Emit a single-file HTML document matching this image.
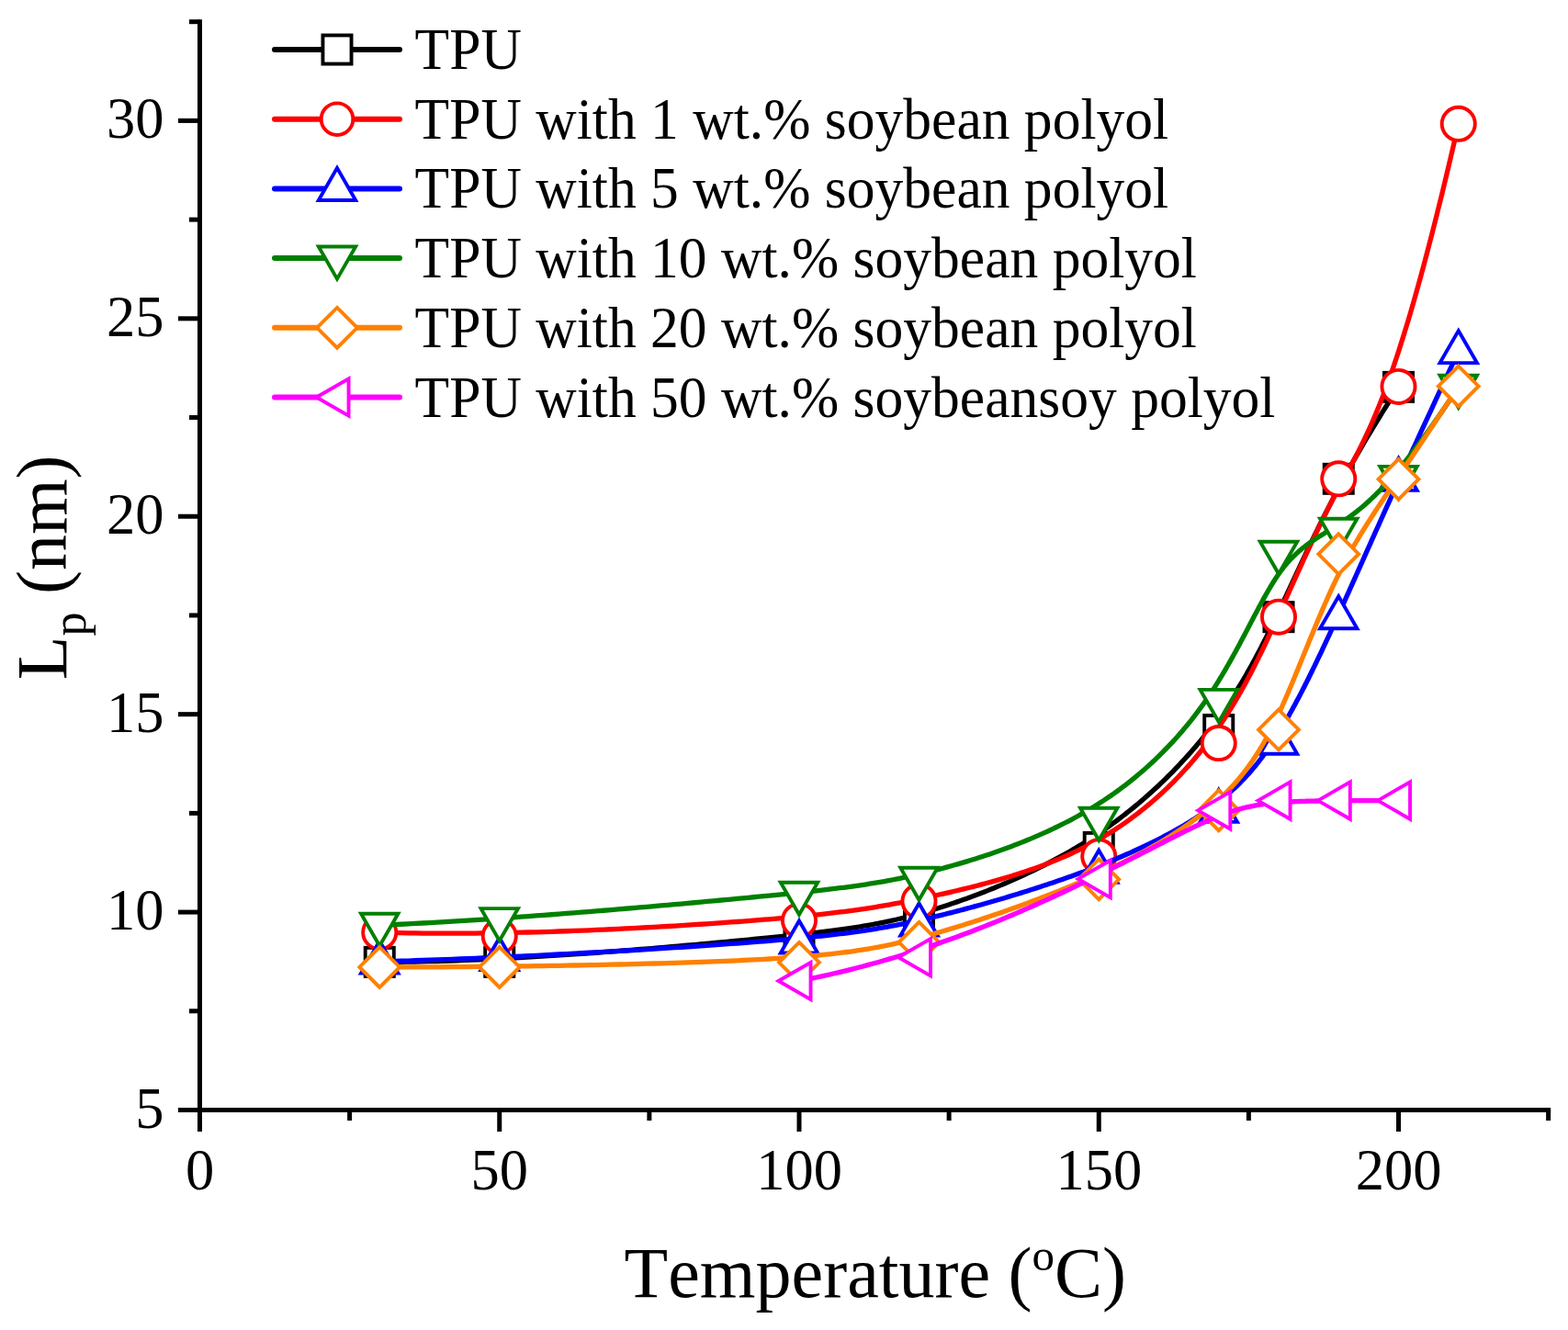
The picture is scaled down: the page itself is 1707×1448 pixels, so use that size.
<!DOCTYPE html>
<html><head><meta charset="utf-8"><title>Lp vs Temperature</title>
<style>
html,body{margin:0;padding:0;background:#fff;overflow:hidden;}
svg{display:block;}
text{font-family:"Liberation Serif","Times New Roman",serif;fill:#000;font-kerning:none;font-variant-ligatures:none;}
</style></head><body>
<svg width="1707" height="1448" viewBox="0 0 1707 1448">
<rect width="1707" height="1448" fill="#fff"/>
<line x1="217.5" y1="23.69" x2="217.5" y2="1208.5" stroke="#000" stroke-width="5" stroke-linecap="square"/>
<line x1="217.5" y1="1208.5" x2="1685.62" y2="1208.5" stroke="#000" stroke-width="5" stroke-linecap="square"/>
<line x1="194" y1="1208.50" x2="217.5" y2="1208.50" stroke="#000" stroke-width="5"/>
<line x1="194" y1="993.08" x2="217.5" y2="993.08" stroke="#000" stroke-width="5"/>
<line x1="194" y1="777.66" x2="217.5" y2="777.66" stroke="#000" stroke-width="5"/>
<line x1="194" y1="562.24" x2="217.5" y2="562.24" stroke="#000" stroke-width="5"/>
<line x1="194" y1="346.82" x2="217.5" y2="346.82" stroke="#000" stroke-width="5"/>
<line x1="194" y1="131.40" x2="217.5" y2="131.40" stroke="#000" stroke-width="5"/>
<line x1="206" y1="1100.79" x2="217.5" y2="1100.79" stroke="#000" stroke-width="5"/>
<line x1="206" y1="885.37" x2="217.5" y2="885.37" stroke="#000" stroke-width="5"/>
<line x1="206" y1="669.95" x2="217.5" y2="669.95" stroke="#000" stroke-width="5"/>
<line x1="206" y1="454.53" x2="217.5" y2="454.53" stroke="#000" stroke-width="5"/>
<line x1="206" y1="239.11" x2="217.5" y2="239.11" stroke="#000" stroke-width="5"/>
<line x1="206" y1="23.69" x2="217.5" y2="23.69" stroke="#000" stroke-width="5"/>
<line x1="217.50" y1="1208.5" x2="217.50" y2="1232" stroke="#000" stroke-width="5"/>
<line x1="543.75" y1="1208.5" x2="543.75" y2="1232" stroke="#000" stroke-width="5"/>
<line x1="870.00" y1="1208.5" x2="870.00" y2="1232" stroke="#000" stroke-width="5"/>
<line x1="1196.25" y1="1208.5" x2="1196.25" y2="1232" stroke="#000" stroke-width="5"/>
<line x1="1522.50" y1="1208.5" x2="1522.50" y2="1232" stroke="#000" stroke-width="5"/>
<line x1="380.62" y1="1208.5" x2="380.62" y2="1220" stroke="#000" stroke-width="5"/>
<line x1="706.88" y1="1208.5" x2="706.88" y2="1220" stroke="#000" stroke-width="5"/>
<line x1="1033.12" y1="1208.5" x2="1033.12" y2="1220" stroke="#000" stroke-width="5"/>
<line x1="1359.38" y1="1208.5" x2="1359.38" y2="1220" stroke="#000" stroke-width="5"/>
<line x1="1685.62" y1="1208.5" x2="1685.62" y2="1220" stroke="#000" stroke-width="5"/>
<text x="178.5" y="1227.50" text-anchor="end" font-size="62.5">5</text>
<text x="178.5" y="1012.08" text-anchor="end" font-size="62.5">10</text>
<text x="178.5" y="796.66" text-anchor="end" font-size="62.5">15</text>
<text x="178.5" y="581.24" text-anchor="end" font-size="62.5">20</text>
<text x="178.5" y="365.82" text-anchor="end" font-size="62.5">25</text>
<text x="178.5" y="150.40" text-anchor="end" font-size="62.5">30</text>
<text x="217.50" y="1295.4" text-anchor="middle" font-size="62.5">0</text>
<text x="543.75" y="1295.4" text-anchor="middle" font-size="62.5">50</text>
<text x="870.00" y="1295.4" text-anchor="middle" font-size="62.5">100</text>
<text x="1196.25" y="1295.4" text-anchor="middle" font-size="62.5">150</text>
<text x="1522.50" y="1295.4" text-anchor="middle" font-size="62.5">200</text>
<text x="679.6" y="1412" font-size="78">Temperature (<tspan font-size="49" dy="-29.5">o</tspan><tspan dy="29.5">C)</tspan></text>
<text transform="translate(71.9,740.25) rotate(-90)" font-size="78">L<tspan font-size="52" dy="21.5">p</tspan><tspan dy="-21.5"> (nm)</tspan></text>
<path d="M413.25 1047.37L420.65 1047.35L428.11 1047.31L435.64 1047.24L443.22 1047.14L450.86 1047.01L458.55 1046.86L466.28 1046.68L474.06 1046.48L481.88 1046.25L489.73 1046.00L497.62 1045.73L505.54 1045.43L513.48 1045.12L521.44 1044.78L529.42 1044.43L537.41 1044.06L545.42 1043.66L553.43 1043.25L561.44 1042.83L569.45 1042.39L577.46 1041.93L585.46 1041.46L593.45 1040.97L601.42 1040.47L609.37 1039.96L617.30 1039.44L625.20 1038.91L633.08 1038.36L640.91 1037.81L648.71 1037.25L656.47 1036.68L664.19 1036.10L671.85 1035.52L679.47 1034.93L687.02 1034.33L694.52 1033.74L701.95 1033.13L709.32 1032.53L716.61 1031.92L723.83 1031.31L730.97 1030.70L738.03 1030.09L745.01 1029.48L751.89 1028.87L758.68 1028.27L765.38 1027.66L771.97 1027.06L778.46 1026.47L784.84 1025.88L791.11 1025.29L797.27 1024.72L803.30 1024.15L809.21 1023.58L815.00 1023.03L820.66 1022.48L826.21 1021.94L831.63 1021.41L836.93 1020.89L842.13 1020.37L847.21 1019.86L852.18 1019.35L857.05 1018.84L861.82 1018.34L866.49 1017.85L871.06 1017.35L875.54 1016.86L879.93 1016.37L884.23 1015.87L888.44 1015.38L892.57 1014.89L896.63 1014.40L900.60 1013.91L904.51 1013.41L908.34 1012.91L912.10 1012.41L915.80 1011.90L919.43 1011.39L923.01 1010.88L926.53 1010.35L929.99 1009.83L933.41 1009.29L936.77 1008.75L940.09 1008.20L943.37 1007.64L946.61 1007.07L949.81 1006.50L952.97 1005.91L956.11 1005.31L959.21 1004.70L962.29 1004.08L965.35 1003.45L968.38 1002.80L971.40 1002.14L974.41 1001.46L977.40 1000.77L980.38 1000.06L983.36 999.34L986.34 998.60L989.31 997.85L992.29 997.07L995.27 996.28L998.26 995.47L1001.26 994.64L1004.27 993.78L1007.30 992.91L1010.35 992.02L1013.43 991.10L1016.52 990.17L1019.64 989.21L1022.77 988.23L1025.93 987.22L1029.11 986.20L1032.30 985.15L1035.51 984.08L1038.74 982.99L1041.98 981.88L1045.24 980.75L1048.51 979.60L1051.80 978.43L1055.09 977.23L1058.40 976.02L1061.72 974.78L1065.05 973.52L1068.38 972.25L1071.73 970.95L1075.08 969.63L1078.44 968.29L1081.80 966.94L1085.16 965.56L1088.53 964.16L1091.91 962.74L1095.28 961.30L1098.66 959.85L1102.03 958.37L1105.40 956.87L1108.78 955.36L1112.15 953.82L1115.51 952.27L1118.87 950.69L1122.23 949.10L1125.58 947.49L1128.92 945.86L1132.26 944.21L1135.58 942.54L1138.90 940.86L1142.21 939.15L1145.50 937.43L1148.78 935.69L1152.05 933.93L1155.31 932.15L1158.55 930.35L1161.78 928.54L1164.98 926.71L1168.17 924.86L1171.35 922.99L1174.50 921.11L1177.63 919.21L1180.75 917.29L1183.84 915.35L1186.91 913.40L1189.95 911.43L1192.97 909.45L1195.97 907.44L1198.95 905.42L1201.90 903.39L1204.83 901.34L1207.74 899.28L1210.62 897.20L1213.48 895.11L1216.32 893.00L1219.13 890.88L1221.92 888.75L1224.69 886.61L1227.44 884.45L1230.16 882.28L1232.86 880.10L1235.53 877.91L1238.19 875.70L1240.82 873.49L1243.42 871.27L1246.01 869.03L1248.57 866.79L1251.10 864.54L1253.62 862.28L1256.11 860.01L1258.58 857.73L1261.02 855.45L1263.44 853.16L1265.84 850.86L1268.22 848.56L1270.57 846.24L1272.90 843.93L1275.21 841.60L1277.49 839.28L1279.75 836.94L1281.99 834.61L1284.20 832.27L1286.39 829.92L1288.56 827.57L1290.71 825.22L1292.83 822.87L1294.93 820.51L1297.00 818.15L1299.05 815.79L1301.08 813.43L1303.09 811.07L1305.07 808.71L1307.03 806.34L1308.97 803.98L1310.88 801.62L1312.77 799.26L1314.64 796.90L1316.49 794.54L1318.31 792.18L1320.11 789.83L1321.89 787.47L1323.64 785.11L1325.38 782.76L1327.10 780.40L1328.80 778.03L1330.48 775.67L1332.14 773.30L1333.79 770.92L1335.41 768.54L1337.03 766.16L1338.63 763.76L1340.21 761.36L1341.78 758.95L1343.34 756.53L1344.88 754.10L1346.41 751.66L1347.94 749.21L1349.45 746.75L1350.95 744.27L1352.44 741.78L1353.92 739.28L1355.40 736.76L1356.87 734.23L1358.33 731.68L1359.79 729.11L1361.24 726.52L1362.68 723.92L1364.13 721.30L1365.56 718.65L1367.00 715.99L1368.43 713.30L1369.87 710.60L1371.30 707.87L1372.73 705.11L1374.16 702.33L1375.60 699.53L1377.03 696.70L1378.47 693.85L1379.91 690.97L1381.36 688.06L1382.81 685.12L1384.26 682.15L1385.72 679.15L1387.19 676.12L1388.66 673.06L1390.15 669.97L1391.64 666.84L1393.13 663.69L1394.64 660.49L1396.16 657.26L1397.69 654.00L1399.24 650.70L1400.79 647.36L1402.36 643.99L1403.94 640.58L1405.54 637.13L1407.16 633.64L1408.79 630.12L1410.45 626.55L1412.12 622.95L1413.82 619.31L1415.54 615.63L1417.28 611.91L1419.05 608.15L1420.84 604.35L1422.66 600.50L1424.51 596.62L1426.39 592.70L1428.30 588.73L1430.23 584.72L1432.21 580.67L1434.21 576.58L1436.25 572.45L1438.32 568.27L1440.44 564.05L1442.58 559.78L1444.77 555.47L1447.00 551.12L1449.27 546.72L1451.58 542.28L1453.93 537.79L1456.33 533.25L1458.78 528.67L1461.27 524.05L1463.80 519.37L1466.39 514.65L1469.03 509.89L1471.71 505.07L1474.45 500.21L1477.24 495.30L1480.09 490.34L1482.99 485.34L1485.95 480.28L1488.96 475.18L1492.04 470.02L1495.17 464.82L1498.36 459.57L1501.62 454.26L1504.93 448.90L1508.32 443.50L1511.76 438.04L1515.27 432.53L1518.85 426.97L1522.50 421.36" fill="none" stroke="#000000" stroke-width="5.3" stroke-linejoin="round"/>
<rect x="397.70" y="1031.82" width="31.10" height="31.10" fill="#fff" stroke="#000000" stroke-width="3.9"/><rect x="528.20" y="1031.82" width="31.10" height="31.10" fill="#fff" stroke="#000000" stroke-width="3.9"/><rect x="854.45" y="1003.81" width="31.10" height="31.10" fill="#fff" stroke="#000000" stroke-width="3.9"/><rect x="984.95" y="986.58" width="31.10" height="31.10" fill="#fff" stroke="#000000" stroke-width="3.9"/><rect x="1180.70" y="906.87" width="31.10" height="31.10" fill="#fff" stroke="#000000" stroke-width="3.9"/><rect x="1311.20" y="778.91" width="31.10" height="31.10" fill="#fff" stroke="#000000" stroke-width="3.9"/><rect x="1376.45" y="656.12" width="31.10" height="31.10" fill="#fff" stroke="#000000" stroke-width="3.9"/><rect x="1441.70" y="505.76" width="31.10" height="31.10" fill="#fff" stroke="#000000" stroke-width="3.9"/><rect x="1506.95" y="405.81" width="31.10" height="31.10" fill="#fff" stroke="#000000" stroke-width="3.9"/>
<path d="M413.25 1015.05L420.92 1015.29L428.66 1015.50L436.47 1015.68L444.34 1015.83L452.26 1015.96L460.24 1016.06L468.27 1016.13L476.35 1016.18L484.47 1016.20L492.62 1016.20L500.81 1016.18L509.03 1016.13L517.27 1016.06L525.53 1015.97L533.82 1015.86L542.11 1015.73L550.41 1015.58L558.72 1015.41L567.02 1015.22L575.33 1015.01L583.62 1014.79L591.91 1014.54L600.17 1014.29L608.42 1014.02L616.64 1013.73L624.84 1013.43L633.00 1013.11L641.12 1012.78L649.21 1012.44L657.25 1012.09L665.24 1011.73L673.18 1011.35L681.06 1010.97L688.88 1010.58L696.63 1010.17L704.32 1009.76L711.93 1009.35L719.46 1008.92L726.91 1008.49L734.28 1008.05L741.56 1007.61L748.74 1007.17L755.82 1006.72L762.80 1006.26L769.68 1005.81L776.44 1005.35L783.09 1004.89L789.62 1004.43L796.03 1003.97L802.31 1003.51L808.46 1003.05L814.47 1002.59L820.35 1002.14L826.10 1001.68L831.72 1001.23L837.22 1000.77L842.59 1000.32L847.85 999.87L852.99 999.42L858.02 998.97L862.94 998.52L867.75 998.07L872.46 997.61L877.07 997.16L881.59 996.70L886.01 996.25L890.34 995.79L894.59 995.33L898.75 994.87L902.83 994.40L906.83 993.94L910.76 993.47L914.61 992.99L918.40 992.51L922.12 992.03L925.79 991.55L929.39 991.06L932.94 990.57L936.43 990.07L939.88 989.57L943.27 989.06L946.63 988.55L949.95 988.03L953.23 987.51L956.47 986.98L959.69 986.44L962.88 985.90L966.04 985.35L969.18 984.79L972.31 984.23L975.42 983.65L978.52 983.08L981.61 982.49L984.69 981.89L987.78 981.29L990.86 980.68L993.95 980.06L997.04 979.43L1000.15 978.79L1003.27 978.14L1006.41 977.48L1009.56 976.81L1012.74 976.13L1015.94 975.44L1019.17 974.74L1022.42 974.02L1025.69 973.30L1028.98 972.56L1032.29 971.81L1035.62 971.05L1038.97 970.28L1042.33 969.49L1045.71 968.69L1049.11 967.87L1052.51 967.04L1055.93 966.20L1059.37 965.34L1062.81 964.46L1066.26 963.57L1069.72 962.66L1073.19 961.74L1076.67 960.80L1080.15 959.84L1083.64 958.86L1087.13 957.87L1090.63 956.86L1094.13 955.82L1097.63 954.77L1101.12 953.70L1104.62 952.62L1108.12 951.51L1111.61 950.38L1115.10 949.23L1118.59 948.06L1122.07 946.86L1125.54 945.65L1129.00 944.41L1132.46 943.15L1135.91 941.87L1139.35 940.57L1142.77 939.24L1146.19 937.89L1149.59 936.51L1152.97 935.11L1156.34 933.68L1159.70 932.23L1163.03 930.75L1166.35 929.25L1169.65 927.72L1172.93 926.17L1176.19 924.58L1179.43 922.97L1182.64 921.34L1185.83 919.67L1188.99 917.98L1192.13 916.25L1195.25 914.50L1198.34 912.73L1201.40 910.93L1204.45 909.10L1207.46 907.24L1210.45 905.36L1213.42 903.46L1216.36 901.53L1219.28 899.58L1222.17 897.60L1225.04 895.60L1227.88 893.58L1230.70 891.54L1233.49 889.48L1236.26 887.39L1239.00 885.28L1241.72 883.16L1244.41 881.01L1247.08 878.85L1249.72 876.66L1252.34 874.46L1254.94 872.24L1257.51 870.00L1260.05 867.74L1262.57 865.47L1265.07 863.18L1267.54 860.88L1269.98 858.56L1272.40 856.22L1274.80 853.88L1277.17 851.51L1279.51 849.14L1281.84 846.75L1284.13 844.34L1286.40 841.93L1288.65 839.50L1290.87 837.07L1293.07 834.62L1295.24 832.16L1297.39 829.69L1299.51 827.22L1301.61 824.73L1303.68 822.23L1305.73 819.73L1307.76 817.22L1309.75 814.70L1311.73 812.17L1313.68 809.64L1315.60 807.10L1317.50 804.56L1319.38 802.01L1321.23 799.46L1323.06 796.90L1324.86 794.33L1326.64 791.76L1328.40 789.19L1330.14 786.61L1331.86 784.02L1333.56 781.43L1335.24 778.83L1336.89 776.23L1338.53 773.63L1340.15 771.01L1341.76 768.39L1343.34 765.77L1344.91 763.14L1346.46 760.51L1347.99 757.87L1349.51 755.23L1351.01 752.58L1352.50 749.92L1353.98 747.26L1355.44 744.60L1356.89 741.93L1358.32 739.25L1359.74 736.57L1361.16 733.89L1362.55 731.20L1363.94 728.50L1365.32 725.80L1366.69 723.09L1368.05 720.38L1369.40 717.67L1370.74 714.95L1372.07 712.22L1373.40 709.49L1374.72 706.75L1376.03 704.01L1377.34 701.26L1378.64 698.51L1379.94 695.75L1381.23 692.99L1382.52 690.23L1383.80 687.45L1385.08 684.68L1386.36 681.90L1387.63 679.11L1388.91 676.32L1390.18 673.52L1391.45 670.72L1392.73 667.92L1394.00 665.10L1395.27 662.29L1396.55 659.47L1397.82 656.64L1399.10 653.81L1400.37 650.98L1401.65 648.14L1402.93 645.30L1404.21 642.45L1405.50 639.60L1406.78 636.75L1408.07 633.89L1409.37 631.03L1410.66 628.16L1411.96 625.29L1413.27 622.42L1414.57 619.54L1415.89 616.66L1417.20 613.78L1418.52 610.90L1419.85 608.01L1421.18 605.12L1422.52 602.22L1423.86 599.32L1425.21 596.43L1426.56 593.52L1427.92 590.62L1429.29 587.71L1430.67 584.80L1432.05 581.89L1433.44 578.98L1434.83 576.06L1436.24 573.15L1437.65 570.23L1439.07 567.31L1440.50 564.39L1441.94 561.46L1443.39 558.54L1444.84 555.61L1446.31 552.69L1447.79 549.76L1449.27 546.83L1450.77 543.90L1452.28 540.97L1453.79 538.04L1455.32 535.10L1456.86 532.17L1458.42 529.24L1459.98 526.30L1461.55 523.37L1463.14 520.44L1464.74 517.50L1466.36 514.55L1467.99 511.57L1469.63 508.56L1471.30 505.51L1472.98 502.40L1474.68 499.22L1476.41 495.97L1478.15 492.63L1479.92 489.19L1481.72 485.64L1483.54 481.98L1485.38 478.19L1487.26 474.25L1489.17 470.17L1491.10 465.93L1493.07 461.52L1495.07 456.92L1497.11 452.13L1499.18 447.14L1501.29 441.94L1503.44 436.52L1505.63 430.86L1507.86 424.95L1510.12 418.79L1512.44 412.37L1514.79 405.67L1517.20 398.68L1519.64 391.40L1522.14 383.81L1524.69 375.90L1527.28 367.67L1529.93 359.09L1532.63 350.17L1535.38 340.88L1538.19 331.23L1541.05 321.19L1543.98 310.77L1546.96 299.94L1550.00 288.70L1553.10 277.03L1556.27 264.94L1559.49 252.40L1562.79 239.40L1566.14 225.94L1569.57 212.01L1573.07 197.59L1576.63 182.68L1580.26 167.25L1583.97 151.31L1587.75 134.85" fill="none" stroke="#FF0000" stroke-width="5.3" stroke-linejoin="round"/>
<circle cx="413.25" cy="1015.05" r="18.05" fill="#fff" stroke="#FF0000" stroke-width="3.9"/><circle cx="543.75" cy="1019.36" r="18.05" fill="#fff" stroke="#FF0000" stroke-width="3.9"/><circle cx="870.00" cy="1002.13" r="18.05" fill="#fff" stroke="#FF0000" stroke-width="3.9"/><circle cx="1000.50" cy="981.02" r="18.05" fill="#fff" stroke="#FF0000" stroke-width="3.9"/><circle cx="1196.25" cy="932.33" r="18.05" fill="#fff" stroke="#FF0000" stroke-width="3.9"/><circle cx="1326.75" cy="809.11" r="18.05" fill="#fff" stroke="#FF0000" stroke-width="3.9"/><circle cx="1392.00" cy="671.67" r="18.05" fill="#fff" stroke="#FF0000" stroke-width="3.9"/><circle cx="1457.25" cy="521.31" r="18.05" fill="#fff" stroke="#FF0000" stroke-width="3.9"/><circle cx="1522.50" cy="420.92" r="18.05" fill="#fff" stroke="#FF0000" stroke-width="3.9"/><circle cx="1587.75" cy="134.85" r="18.05" fill="#fff" stroke="#FF0000" stroke-width="3.9"/>
<path d="M413.25 1046.93L420.92 1046.73L428.66 1046.51L436.47 1046.27L444.34 1046.03L452.26 1045.77L460.24 1045.50L468.27 1045.22L476.35 1044.93L484.47 1044.62L492.62 1044.31L500.81 1043.99L509.03 1043.65L517.27 1043.31L525.53 1042.96L533.82 1042.60L542.11 1042.23L550.41 1041.86L558.72 1041.47L567.02 1041.08L575.33 1040.68L583.62 1040.28L591.91 1039.86L600.17 1039.45L608.42 1039.02L616.64 1038.59L624.84 1038.16L633.00 1037.72L641.12 1037.27L649.21 1036.83L657.25 1036.37L665.24 1035.92L673.18 1035.46L681.06 1035.00L688.88 1034.53L696.63 1034.07L704.32 1033.60L711.93 1033.13L719.46 1032.66L726.91 1032.19L734.28 1031.71L741.56 1031.24L748.74 1030.77L755.82 1030.29L762.80 1029.82L769.68 1029.35L776.44 1028.88L783.09 1028.41L789.62 1027.95L796.03 1027.48L802.31 1027.02L808.46 1026.56L814.47 1026.11L820.35 1025.66L826.10 1025.21L831.72 1024.76L837.22 1024.32L842.59 1023.87L847.85 1023.43L852.99 1022.99L858.02 1022.55L862.94 1022.11L867.75 1021.67L872.46 1021.23L877.07 1020.79L881.59 1020.35L886.01 1019.90L890.34 1019.46L894.59 1019.01L898.75 1018.56L902.83 1018.11L906.83 1017.65L910.76 1017.19L914.61 1016.73L918.40 1016.26L922.12 1015.79L925.79 1015.31L929.39 1014.83L932.94 1014.34L936.43 1013.84L939.88 1013.34L943.27 1012.83L946.63 1012.32L949.95 1011.79L953.23 1011.26L956.47 1010.72L959.69 1010.18L962.88 1009.62L966.04 1009.05L969.18 1008.48L972.31 1007.89L975.42 1007.30L978.52 1006.69L981.61 1006.08L984.69 1005.45L987.78 1004.81L990.86 1004.15L993.95 1003.49L997.04 1002.81L1000.15 1002.12L1003.27 1001.42L1006.41 1000.70L1009.56 999.97L1012.74 999.22L1015.94 998.46L1019.17 997.68L1022.42 996.89L1025.69 996.09L1028.98 995.27L1032.29 994.44L1035.62 993.60L1038.97 992.74L1042.33 991.87L1045.71 990.99L1049.11 990.09L1052.51 989.18L1055.93 988.26L1059.37 987.33L1062.81 986.39L1066.26 985.44L1069.72 984.47L1073.19 983.50L1076.67 982.51L1080.15 981.51L1083.64 980.51L1087.13 979.49L1090.63 978.47L1094.13 977.43L1097.63 976.39L1101.12 975.33L1104.62 974.27L1108.12 973.20L1111.61 972.12L1115.10 971.03L1118.59 969.94L1122.07 968.83L1125.54 967.72L1129.00 966.61L1132.46 965.48L1135.91 964.35L1139.35 963.21L1142.77 962.07L1146.19 960.92L1149.59 959.76L1152.97 958.60L1156.34 957.44L1159.70 956.27L1163.03 955.09L1166.35 953.91L1169.65 952.72L1172.93 951.53L1176.19 950.34L1179.43 949.14L1182.64 947.94L1185.83 946.74L1188.99 945.53L1192.13 944.32L1195.25 943.10L1198.34 941.89L1201.40 940.67L1204.45 939.44L1207.46 938.22L1210.45 936.99L1213.42 935.76L1216.36 934.52L1219.28 933.28L1222.17 932.04L1225.04 930.80L1227.88 929.55L1230.70 928.30L1233.49 927.04L1236.26 925.79L1239.00 924.52L1241.72 923.26L1244.41 921.99L1247.08 920.72L1249.72 919.45L1252.34 918.18L1254.94 916.90L1257.51 915.61L1260.05 914.33L1262.57 913.04L1265.07 911.75L1267.54 910.45L1269.98 909.16L1272.40 907.86L1274.80 906.55L1277.17 905.24L1279.51 903.93L1281.84 902.62L1284.13 901.30L1286.40 899.99L1288.65 898.66L1290.87 897.34L1293.07 896.01L1295.24 894.68L1297.39 893.34L1299.51 892.00L1301.61 890.66L1303.68 889.32L1305.73 887.97L1307.76 886.62L1309.75 885.26L1311.73 883.91L1313.68 882.55L1315.60 881.18L1317.50 879.82L1319.38 878.45L1321.23 877.08L1323.06 875.70L1324.86 874.31L1326.64 872.93L1328.40 871.53L1330.14 870.14L1331.86 868.73L1333.56 867.32L1335.24 865.90L1336.89 864.47L1338.53 863.04L1340.15 861.60L1341.76 860.14L1343.34 858.68L1344.91 857.21L1346.46 855.73L1347.99 854.24L1349.51 852.74L1351.01 851.23L1352.50 849.71L1353.98 848.17L1355.44 846.63L1356.89 845.06L1358.32 843.49L1359.74 841.90L1361.16 840.30L1362.55 838.69L1363.94 837.06L1365.32 835.41L1366.69 833.75L1368.05 832.08L1369.40 830.38L1370.74 828.67L1372.07 826.95L1373.40 825.20L1374.72 823.44L1376.03 821.66L1377.34 819.86L1378.64 818.04L1379.94 816.20L1381.23 814.35L1382.52 812.47L1383.80 810.57L1385.08 808.65L1386.36 806.71L1387.63 804.74L1388.91 802.76L1390.18 800.75L1391.45 798.72L1392.73 796.66L1394.00 794.58L1395.27 792.48L1396.55 790.35L1397.82 788.20L1399.10 786.02L1400.37 783.82L1401.65 781.59L1402.93 779.34L1404.21 777.06L1405.50 774.76L1406.78 772.43L1408.07 770.07L1409.37 767.69L1410.66 765.29L1411.96 762.85L1413.27 760.39L1414.57 757.90L1415.89 755.39L1417.20 752.84L1418.52 750.27L1419.85 747.68L1421.18 745.05L1422.52 742.40L1423.86 739.71L1425.21 737.00L1426.56 734.26L1427.92 731.49L1429.29 728.69L1430.67 725.87L1432.05 723.01L1433.44 720.12L1434.83 717.21L1436.24 714.26L1437.65 711.28L1439.07 708.27L1440.50 705.24L1441.94 702.17L1443.39 699.07L1444.84 695.93L1446.31 692.77L1447.79 689.57L1449.27 686.35L1450.77 683.09L1452.28 679.80L1453.79 676.47L1455.32 673.12L1456.86 669.73L1458.42 666.30L1459.98 662.85L1461.55 659.36L1463.14 655.84L1464.74 652.28L1466.36 648.68L1467.99 645.05L1469.63 641.38L1471.30 637.66L1472.98 633.90L1474.68 630.09L1476.41 626.23L1478.15 622.32L1479.92 618.35L1481.72 614.33L1483.54 610.25L1485.38 606.11L1487.26 601.91L1489.17 597.64L1491.10 593.30L1493.07 588.90L1495.07 584.43L1497.11 579.88L1499.18 575.25L1501.29 570.55L1503.44 565.77L1505.63 560.91L1507.86 555.96L1510.12 550.92L1512.44 545.80L1514.79 540.59L1517.20 535.28L1519.64 529.88L1522.14 524.38L1524.69 518.78L1527.28 513.08L1529.93 507.27L1532.63 501.36L1535.38 495.35L1538.19 489.22L1541.05 482.98L1543.98 476.62L1546.96 470.15L1550.00 463.56L1553.10 456.84L1556.27 450.01L1559.49 443.05L1562.79 435.96L1566.14 428.74L1569.57 421.39L1573.07 413.90L1576.63 406.28L1580.26 398.52L1583.97 390.62L1587.75 382.58" fill="none" stroke="#0000FF" stroke-width="5.3" stroke-linejoin="round"/>
<path d="M413.25 1024.43L433.45 1059.48L393.05 1059.48Z" fill="#fff" stroke="#0000FF" stroke-width="3.9"/><path d="M543.75 1020.99L563.95 1056.04L523.55 1056.04Z" fill="#fff" stroke="#0000FF" stroke-width="3.9"/><path d="M870.00 1002.46L890.20 1037.51L849.80 1037.51Z" fill="#fff" stroke="#0000FF" stroke-width="3.9"/><path d="M1000.50 983.51L1020.70 1018.56L980.30 1018.56Z" fill="#fff" stroke="#0000FF" stroke-width="3.9"/><path d="M1196.25 925.77L1216.45 960.82L1176.05 960.82Z" fill="#fff" stroke="#0000FF" stroke-width="3.9"/><path d="M1326.75 859.85L1346.95 894.90L1306.55 894.90Z" fill="#fff" stroke="#0000FF" stroke-width="3.9"/><path d="M1392.00 785.75L1412.20 820.80L1371.80 820.80Z" fill="#fff" stroke="#0000FF" stroke-width="3.9"/><path d="M1457.25 649.17L1477.45 684.22L1437.05 684.22Z" fill="#fff" stroke="#0000FF" stroke-width="3.9"/><path d="M1522.50 498.81L1542.70 533.86L1502.30 533.86Z" fill="#fff" stroke="#0000FF" stroke-width="3.9"/><path d="M1587.75 360.08L1607.95 395.13L1567.55 395.13Z" fill="#fff" stroke="#0000FF" stroke-width="3.9"/>
<path d="M413.25 1007.30L420.92 1006.96L428.66 1006.60L436.47 1006.23L444.34 1005.84L452.26 1005.43L460.24 1005.00L468.27 1004.56L476.35 1004.10L484.47 1003.62L492.62 1003.14L500.81 1002.63L509.03 1002.12L517.27 1001.59L525.53 1001.05L533.82 1000.50L542.11 999.94L550.41 999.36L558.72 998.78L567.02 998.19L575.33 997.59L583.62 996.98L591.91 996.36L600.17 995.74L608.42 995.11L616.64 994.48L624.84 993.84L633.00 993.19L641.12 992.55L649.21 991.89L657.25 991.24L665.24 990.58L673.18 989.92L681.06 989.26L688.88 988.60L696.63 987.94L704.32 987.29L711.93 986.63L719.46 985.97L726.91 985.32L734.28 984.67L741.56 984.02L748.74 983.38L755.82 982.74L762.80 982.11L769.68 981.48L776.44 980.86L783.09 980.25L789.62 979.64L796.03 979.04L802.31 978.46L808.46 977.88L814.47 977.31L820.35 976.75L826.10 976.20L831.72 975.66L837.22 975.12L842.59 974.60L847.85 974.08L852.99 973.57L858.02 973.06L862.94 972.56L867.75 972.06L872.46 971.57L877.07 971.08L881.59 970.59L886.01 970.11L890.34 969.63L894.59 969.15L898.75 968.67L902.83 968.19L906.83 967.71L910.76 967.23L914.61 966.74L918.40 966.26L922.12 965.77L925.79 965.28L929.39 964.79L932.94 964.29L936.43 963.79L939.88 963.28L943.27 962.76L946.63 962.24L949.95 961.72L953.23 961.18L956.47 960.64L959.69 960.08L962.88 959.52L966.04 958.95L969.18 958.37L972.31 957.77L975.42 957.17L978.52 956.55L981.61 955.92L984.69 955.28L987.78 954.62L990.86 953.95L993.95 953.26L997.04 952.56L1000.15 951.84L1003.27 951.10L1006.41 950.35L1009.56 949.58L1012.74 948.79L1015.94 947.99L1019.17 947.16L1022.42 946.32L1025.69 945.45L1028.98 944.57L1032.29 943.67L1035.62 942.75L1038.97 941.80L1042.33 940.84L1045.71 939.86L1049.11 938.86L1052.51 937.84L1055.93 936.80L1059.37 935.74L1062.81 934.66L1066.26 933.56L1069.72 932.44L1073.19 931.30L1076.67 930.14L1080.15 928.95L1083.64 927.75L1087.13 926.52L1090.63 925.28L1094.13 924.01L1097.63 922.72L1101.12 921.41L1104.62 920.08L1108.12 918.72L1111.61 917.35L1115.10 915.95L1118.59 914.53L1122.07 913.09L1125.54 911.63L1129.00 910.14L1132.46 908.63L1135.91 907.10L1139.35 905.55L1142.77 903.97L1146.19 902.37L1149.59 900.75L1152.97 899.11L1156.34 897.44L1159.70 895.75L1163.03 894.03L1166.35 892.29L1169.65 890.53L1172.93 888.75L1176.19 886.94L1179.43 885.10L1182.64 883.25L1185.83 881.37L1188.99 879.46L1192.13 877.53L1195.25 875.58L1198.34 873.60L1201.40 871.60L1204.45 869.58L1207.46 867.53L1210.45 865.46L1213.42 863.37L1216.36 861.26L1219.28 859.12L1222.17 856.97L1225.04 854.79L1227.88 852.59L1230.70 850.37L1233.49 848.13L1236.26 845.87L1239.00 843.58L1241.72 841.28L1244.41 838.96L1247.08 836.62L1249.72 834.26L1252.34 831.88L1254.94 829.48L1257.51 827.07L1260.05 824.63L1262.57 822.18L1265.07 819.71L1267.54 817.22L1269.98 814.71L1272.40 812.19L1274.80 809.65L1277.17 807.09L1279.51 804.52L1281.84 801.93L1284.13 799.32L1286.40 796.70L1288.65 794.06L1290.87 791.41L1293.07 788.74L1295.24 786.06L1297.39 783.36L1299.51 780.65L1301.61 777.92L1303.68 775.18L1305.73 772.43L1307.76 769.66L1309.75 766.88L1311.73 764.09L1313.68 761.28L1315.60 758.46L1317.50 755.63L1319.38 752.79L1321.23 749.93L1323.06 747.07L1324.86 744.21L1326.64 741.33L1328.40 738.45L1330.14 735.57L1331.86 732.68L1333.56 729.79L1335.24 726.91L1336.89 724.02L1338.53 721.14L1340.15 718.26L1341.76 715.38L1343.34 712.52L1344.91 709.66L1346.46 706.80L1347.99 703.96L1349.51 701.13L1351.01 698.31L1352.50 695.51L1353.98 692.72L1355.44 689.95L1356.89 687.19L1358.32 684.45L1359.74 681.74L1361.16 679.04L1362.55 676.37L1363.94 673.72L1365.32 671.09L1366.69 668.50L1368.05 665.93L1369.40 663.38L1370.74 660.87L1372.07 658.39L1373.40 655.94L1374.72 653.53L1376.03 651.15L1377.34 648.81L1378.64 646.50L1379.94 644.23L1381.23 642.01L1382.52 639.82L1383.80 637.68L1385.08 635.58L1386.36 633.52L1387.63 631.52L1388.91 629.56L1390.18 627.64L1391.45 625.78L1392.73 623.97L1394.00 622.21L1395.27 620.50L1396.55 618.84L1397.82 617.22L1399.10 615.65L1400.37 614.12L1401.65 612.64L1402.93 611.19L1404.21 609.79L1405.50 608.42L1406.78 607.09L1408.07 605.80L1409.37 604.53L1410.66 603.30L1411.96 602.10L1413.27 600.93L1414.57 599.79L1415.89 598.67L1417.20 597.58L1418.52 596.51L1419.85 595.46L1421.18 594.44L1422.52 593.43L1423.86 592.44L1425.21 591.46L1426.56 590.50L1427.92 589.56L1429.29 588.62L1430.67 587.69L1432.05 586.78L1433.44 585.87L1434.83 584.97L1436.24 584.07L1437.65 583.17L1439.07 582.27L1440.50 581.38L1441.94 580.48L1443.39 579.58L1444.84 578.68L1446.31 577.77L1447.79 576.85L1449.27 575.93L1450.77 574.99L1452.28 574.04L1453.79 573.08L1455.32 572.11L1456.86 571.11L1458.42 570.11L1459.98 569.08L1461.55 568.03L1463.14 566.96L1464.74 565.86L1466.36 564.74L1467.99 563.59L1469.63 562.41L1471.30 561.20L1472.98 559.94L1474.68 558.65L1476.41 557.31L1478.15 555.93L1479.92 554.50L1481.72 553.02L1483.54 551.49L1485.38 549.90L1487.26 548.26L1489.17 546.55L1491.10 544.77L1493.07 542.93L1495.07 541.02L1497.11 539.04L1499.18 536.98L1501.29 534.85L1503.44 532.64L1505.63 530.34L1507.86 527.95L1510.12 525.48L1512.44 522.92L1514.79 520.26L1517.20 517.51L1519.64 514.66L1522.14 511.70L1524.69 508.64L1527.28 505.48L1529.93 502.20L1532.63 498.81L1535.38 495.31L1538.19 491.69L1541.05 487.94L1543.98 484.08L1546.96 480.08L1550.00 475.96L1553.10 471.71L1556.27 467.32L1559.49 462.80L1562.79 458.14L1566.14 453.33L1569.57 448.38L1573.07 443.28L1576.63 438.03L1580.26 432.63L1583.97 427.07L1587.75 421.36" fill="none" stroke="#008000" stroke-width="5.3" stroke-linejoin="round"/>
<path d="M413.25 1029.80L433.45 994.75L393.05 994.75Z" fill="#fff" stroke="#008000" stroke-width="3.9"/><path d="M543.75 1024.20L563.95 989.15L523.55 989.15Z" fill="#fff" stroke="#008000" stroke-width="3.9"/><path d="M870.00 995.76L890.20 960.71L849.80 960.71Z" fill="#fff" stroke="#008000" stroke-width="3.9"/><path d="M1000.50 979.82L1020.70 944.77L980.30 944.77Z" fill="#fff" stroke="#008000" stroke-width="3.9"/><path d="M1196.25 914.76L1216.45 879.71L1176.05 879.71Z" fill="#fff" stroke="#008000" stroke-width="3.9"/><path d="M1326.75 785.94L1346.95 750.89L1306.55 750.89Z" fill="#fff" stroke="#008000" stroke-width="3.9"/><path d="M1392.00 624.81L1412.20 589.76L1371.80 589.76Z" fill="#fff" stroke="#008000" stroke-width="3.9"/><path d="M1457.25 599.82L1477.45 564.77L1437.05 564.77Z" fill="#fff" stroke="#008000" stroke-width="3.9"/><path d="M1522.50 542.95L1542.70 507.90L1502.30 507.90Z" fill="#fff" stroke="#008000" stroke-width="3.9"/><path d="M1587.75 443.86L1607.95 408.81L1567.55 408.81Z" fill="#fff" stroke="#008000" stroke-width="3.9"/>
<path d="M413.25 1052.97L420.92 1052.96L428.66 1052.95L436.47 1052.94L444.34 1052.92L452.26 1052.89L460.24 1052.86L468.27 1052.82L476.35 1052.78L484.47 1052.73L492.62 1052.67L500.81 1052.61L509.03 1052.54L517.27 1052.47L525.53 1052.39L533.82 1052.31L542.11 1052.22L550.41 1052.12L558.72 1052.02L567.02 1051.91L575.33 1051.80L583.62 1051.68L591.91 1051.56L600.17 1051.43L608.42 1051.29L616.64 1051.15L624.84 1051.00L633.00 1050.85L641.12 1050.69L649.21 1050.53L657.25 1050.36L665.24 1050.18L673.18 1050.00L681.06 1049.81L688.88 1049.62L696.63 1049.42L704.32 1049.22L711.93 1049.01L719.46 1048.80L726.91 1048.58L734.28 1048.35L741.56 1048.12L748.74 1047.88L755.82 1047.64L762.80 1047.39L769.68 1047.14L776.44 1046.88L783.09 1046.62L789.62 1046.35L796.03 1046.08L802.31 1045.80L808.46 1045.51L814.47 1045.22L820.35 1044.92L826.10 1044.62L831.72 1044.31L837.22 1044.00L842.59 1043.68L847.85 1043.35L852.99 1043.01L858.02 1042.67L862.94 1042.32L867.75 1041.96L872.46 1041.60L877.07 1041.22L881.59 1040.84L886.01 1040.45L890.34 1040.05L894.59 1039.64L898.75 1039.22L902.83 1038.79L906.83 1038.36L910.76 1037.91L914.61 1037.45L918.40 1036.98L922.12 1036.50L925.79 1036.01L929.39 1035.51L932.94 1034.99L936.43 1034.47L939.88 1033.93L943.27 1033.38L946.63 1032.82L949.95 1032.24L953.23 1031.66L956.47 1031.05L959.69 1030.44L962.88 1029.81L966.04 1029.17L969.18 1028.51L972.31 1027.84L975.42 1027.15L978.52 1026.45L981.61 1025.74L984.69 1025.00L987.78 1024.26L990.86 1023.49L993.95 1022.72L997.04 1021.92L1000.15 1021.11L1003.27 1020.28L1006.41 1019.43L1009.56 1018.57L1012.74 1017.69L1015.94 1016.79L1019.17 1015.88L1022.42 1014.94L1025.69 1013.99L1028.98 1013.03L1032.29 1012.05L1035.62 1011.05L1038.97 1010.04L1042.33 1009.01L1045.71 1007.96L1049.11 1006.91L1052.51 1005.83L1055.93 1004.75L1059.37 1003.65L1062.81 1002.54L1066.26 1001.41L1069.72 1000.27L1073.19 999.12L1076.67 997.96L1080.15 996.78L1083.64 995.59L1087.13 994.39L1090.63 993.18L1094.13 991.96L1097.63 990.73L1101.12 989.49L1104.62 988.24L1108.12 986.98L1111.61 985.71L1115.10 984.43L1118.59 983.15L1122.07 981.85L1125.54 980.55L1129.00 979.24L1132.46 977.92L1135.91 976.59L1139.35 975.26L1142.77 973.92L1146.19 972.57L1149.59 971.22L1152.97 969.86L1156.34 968.50L1159.70 967.13L1163.03 965.76L1166.35 964.38L1169.65 963.00L1172.93 961.62L1176.19 960.23L1179.43 958.84L1182.64 957.44L1185.83 956.04L1188.99 954.64L1192.13 953.24L1195.25 951.83L1198.34 950.43L1201.40 949.02L1204.45 947.60L1207.46 946.19L1210.45 944.77L1213.42 943.35L1216.36 941.92L1219.28 940.49L1222.17 939.06L1225.04 937.63L1227.88 936.19L1230.70 934.75L1233.49 933.31L1236.26 931.86L1239.00 930.41L1241.72 928.96L1244.41 927.51L1247.08 926.05L1249.72 924.58L1252.34 923.12L1254.94 921.65L1257.51 920.17L1260.05 918.69L1262.57 917.21L1265.07 915.73L1267.54 914.24L1269.98 912.75L1272.40 911.25L1274.80 909.75L1277.17 908.25L1279.51 906.74L1281.84 905.22L1284.13 903.71L1286.40 902.19L1288.65 900.66L1290.87 899.13L1293.07 897.60L1295.24 896.06L1297.39 894.52L1299.51 892.97L1301.61 891.42L1303.68 889.86L1305.73 888.30L1307.76 886.74L1309.75 885.17L1311.73 883.59L1313.68 882.01L1315.60 880.43L1317.50 878.84L1319.38 877.24L1321.23 875.64L1323.06 874.03L1324.86 872.42L1326.64 870.79L1328.40 869.16L1330.14 867.52L1331.86 865.87L1333.56 864.20L1335.24 862.53L1336.89 860.84L1338.53 859.14L1340.15 857.43L1341.76 855.70L1343.34 853.96L1344.91 852.20L1346.46 850.43L1347.99 848.64L1349.51 846.83L1351.01 845.00L1352.50 843.16L1353.98 841.29L1355.44 839.40L1356.89 837.50L1358.32 835.57L1359.74 833.62L1361.16 831.65L1362.55 829.65L1363.94 827.63L1365.32 825.58L1366.69 823.51L1368.05 821.41L1369.40 819.29L1370.74 817.14L1372.07 814.95L1373.40 812.75L1374.72 810.51L1376.03 808.24L1377.34 805.94L1378.64 803.60L1379.94 801.24L1381.23 798.84L1382.52 796.41L1383.80 793.94L1385.08 791.44L1386.36 788.91L1387.63 786.33L1388.91 783.73L1390.18 781.08L1391.45 778.39L1392.73 775.67L1394.00 772.90L1395.27 770.10L1396.55 767.27L1397.82 764.40L1399.10 761.49L1400.37 758.55L1401.65 755.59L1402.93 752.59L1404.21 749.56L1405.50 746.51L1406.78 743.43L1408.07 740.33L1409.37 737.20L1410.66 734.05L1411.96 730.88L1413.27 727.70L1414.57 724.49L1415.89 721.27L1417.20 718.03L1418.52 714.77L1419.85 711.51L1421.18 708.23L1422.52 704.94L1423.86 701.64L1425.21 698.34L1426.56 695.03L1427.92 691.71L1429.29 688.39L1430.67 685.06L1432.05 681.74L1433.44 678.41L1434.83 675.09L1436.24 671.77L1437.65 668.45L1439.07 665.13L1440.50 661.83L1441.94 658.53L1443.39 655.23L1444.84 651.95L1446.31 648.68L1447.79 645.42L1449.27 642.18L1450.77 638.95L1452.28 635.74L1453.79 632.55L1455.32 629.37L1456.86 626.22L1458.42 623.08L1459.98 619.97L1461.55 616.88L1463.14 613.82L1464.74 610.79L1466.36 607.77L1467.99 604.78L1469.63 601.80L1471.30 598.83L1472.98 595.87L1474.68 592.92L1476.41 589.97L1478.15 587.03L1479.92 584.07L1481.72 581.11L1483.54 578.15L1485.38 575.16L1487.26 572.17L1489.17 569.15L1491.10 566.11L1493.07 563.04L1495.07 559.95L1497.11 556.82L1499.18 553.66L1501.29 550.45L1503.44 547.21L1505.63 543.92L1507.86 540.58L1510.12 537.20L1512.44 533.75L1514.79 530.25L1517.20 526.69L1519.64 523.06L1522.14 519.37L1524.69 515.60L1527.28 511.76L1529.93 507.84L1532.63 503.85L1535.38 499.77L1538.19 495.60L1541.05 491.34L1543.98 486.99L1546.96 482.55L1550.00 478.00L1553.10 473.35L1556.27 468.59L1559.49 463.73L1562.79 458.75L1566.14 453.66L1569.57 448.45L1573.07 443.11L1576.63 437.65L1580.26 432.07L1583.97 426.35L1587.75 420.49" fill="none" stroke="#FF8000" stroke-width="5.3" stroke-linejoin="round"/>
<path d="M413.25 1031.07L435.15 1052.97L413.25 1074.87L391.35 1052.97Z" fill="#fff" stroke="#FF8000" stroke-width="3.9"/><path d="M543.75 1031.07L565.65 1052.97L543.75 1074.87L521.85 1052.97Z" fill="#fff" stroke="#FF8000" stroke-width="3.9"/><path d="M870.00 1025.90L891.90 1047.80L870.00 1069.70L848.10 1047.80Z" fill="#fff" stroke="#FF8000" stroke-width="3.9"/><path d="M1000.50 1003.92L1022.40 1025.82L1000.50 1047.72L978.60 1025.82Z" fill="#fff" stroke="#FF8000" stroke-width="3.9"/><path d="M1196.25 935.42L1218.15 957.32L1196.25 979.22L1174.35 957.32Z" fill="#fff" stroke="#FF8000" stroke-width="3.9"/><path d="M1326.75 860.45L1348.65 882.35L1326.75 904.25L1304.85 882.35Z" fill="#fff" stroke="#FF8000" stroke-width="3.9"/><path d="M1392.00 772.56L1413.90 794.46L1392.00 816.36L1370.10 794.46Z" fill="#fff" stroke="#FF8000" stroke-width="3.9"/><path d="M1457.25 581.27L1479.15 603.17L1457.25 625.07L1435.35 603.17Z" fill="#fff" stroke="#FF8000" stroke-width="3.9"/><path d="M1522.50 499.84L1544.40 521.74L1522.50 543.64L1500.60 521.74Z" fill="#fff" stroke="#FF8000" stroke-width="3.9"/><path d="M1587.75 398.59L1609.65 420.49L1587.75 442.39L1565.85 420.49Z" fill="#fff" stroke="#FF8000" stroke-width="3.9"/>
<path d="M870.00 1068.05L876.52 1066.73L883.00 1065.39L889.41 1064.03L895.77 1062.64L902.08 1061.22L908.33 1059.78L914.53 1058.31L920.68 1056.82L926.77 1055.31L932.81 1053.78L938.79 1052.22L944.72 1050.65L950.60 1049.05L956.43 1047.44L962.20 1045.81L967.92 1044.16L973.59 1042.49L979.21 1040.81L984.77 1039.11L990.28 1037.40L995.74 1035.68L1001.15 1033.94L1006.51 1032.19L1011.82 1030.43L1017.07 1028.66L1022.27 1026.87L1027.43 1025.08L1032.53 1023.28L1037.58 1021.47L1042.58 1019.65L1047.53 1017.83L1052.44 1016.00L1057.29 1014.17L1062.09 1012.33L1066.84 1010.49L1071.54 1008.64L1076.19 1006.80L1080.80 1004.95L1085.35 1003.10L1089.86 1001.25L1094.32 999.40L1098.72 997.55L1103.08 995.71L1107.40 993.87L1111.66 992.03L1115.88 990.19L1120.04 988.37L1124.16 986.54L1128.24 984.72L1132.26 982.91L1136.24 981.11L1140.17 979.32L1144.06 977.54L1147.89 975.76L1151.69 974.00L1155.43 972.25L1159.13 970.51L1162.78 968.78L1166.39 967.07L1169.95 965.37L1173.46 963.69L1176.93 962.02L1180.36 960.37L1183.74 958.73L1187.08 957.10L1190.37 955.50L1193.62 953.90L1196.83 952.33L1200.00 950.77L1203.12 949.22L1206.21 947.69L1209.25 946.17L1212.26 944.67L1215.22 943.19L1218.15 941.72L1221.03 940.27L1223.88 938.83L1226.69 937.41L1229.46 936.00L1232.20 934.61L1234.90 933.24L1237.56 931.88L1240.19 930.54L1242.79 929.22L1245.34 927.91L1247.87 926.61L1250.36 925.34L1252.82 924.08L1255.24 922.83L1257.64 921.60L1260.00 920.39L1262.33 919.20L1264.63 918.02L1266.89 916.86L1269.13 915.71L1271.34 914.58L1273.52 913.47L1275.67 912.38L1277.80 911.30L1279.89 910.24L1281.96 909.19L1284.00 908.17L1286.02 907.16L1288.00 906.16L1289.97 905.19L1291.91 904.23L1293.82 903.28L1295.71 902.36L1297.58 901.45L1299.42 900.56L1301.24 899.69L1303.04 898.83L1304.82 898.00L1306.58 897.18L1308.31 896.37L1310.03 895.59L1311.72 894.82L1313.40 894.07L1315.05 893.34L1316.69 892.63L1318.31 891.93L1319.91 891.25L1321.50 890.59L1323.07 889.95L1324.62 889.32L1326.16 888.71L1327.68 888.11L1329.19 887.53L1330.68 886.97L1332.16 886.42L1333.62 885.89L1335.07 885.37L1336.51 884.87L1337.94 884.38L1339.35 883.91L1340.76 883.45L1342.15 883.00L1343.54 882.57L1344.91 882.15L1346.27 881.74L1347.63 881.35L1348.98 880.97L1350.32 880.60L1351.65 880.24L1352.97 879.90L1354.29 879.57L1355.60 879.24L1356.91 878.93L1358.21 878.63L1359.50 878.34L1360.80 878.06L1362.09 877.79L1363.37 877.53L1364.65 877.28L1365.93 877.04L1367.21 876.81L1368.48 876.59L1369.76 876.37L1371.03 876.17L1372.31 875.97L1373.58 875.78L1374.86 875.59L1376.13 875.42L1377.41 875.25L1378.69 875.09L1379.97 874.93L1381.26 874.78L1382.55 874.64L1383.84 874.51L1385.14 874.37L1386.44 874.25L1387.75 874.13L1389.07 874.01L1390.39 873.90L1391.71 873.79L1393.05 873.69L1394.39 873.59L1395.74 873.49L1397.10 873.40L1398.46 873.31L1399.84 873.23L1401.23 873.14L1402.63 873.06L1404.04 872.98L1405.46 872.91L1406.90 872.84L1408.35 872.77L1409.82 872.70L1411.30 872.64L1412.80 872.57L1414.31 872.51L1415.85 872.46L1417.40 872.40L1418.98 872.35L1420.57 872.30L1422.18 872.25L1423.82 872.21L1425.48 872.16L1427.16 872.12L1428.87 872.08L1430.60 872.04L1432.36 872.01L1434.14 871.98L1435.95 871.94L1437.79 871.91L1439.66 871.89L1441.56 871.86L1443.49 871.83L1445.45 871.81L1447.44 871.79L1449.46 871.77L1451.52 871.75L1453.61 871.73L1455.74 871.71L1457.90 871.70L1460.10 871.69L1462.34 871.67L1464.61 871.66L1466.92 871.65L1469.28 871.64L1471.67 871.63L1474.10 871.62L1476.58 871.62L1479.10 871.61L1481.66 871.61L1484.26 871.60L1486.91 871.60L1489.61 871.59L1492.35 871.59L1495.14 871.59L1497.98 871.59L1500.87 871.59L1503.80 871.58L1506.79 871.58L1509.83 871.58L1512.91 871.58L1516.06 871.58L1519.25 871.58L1522.50 871.58" fill="none" stroke="#FF00FF" stroke-width="5.3" stroke-linejoin="round"/>
<path d="M847.50 1068.05L882.55 1047.85L882.55 1088.25Z" fill="#fff" stroke="#FF00FF" stroke-width="3.9"/><path d="M978.00 1042.20L1013.05 1022.00L1013.05 1062.40Z" fill="#fff" stroke="#FF00FF" stroke-width="3.9"/><path d="M1173.75 956.89L1208.80 936.69L1208.80 977.09Z" fill="#fff" stroke="#FF00FF" stroke-width="3.9"/><path d="M1304.25 882.35L1339.30 862.15L1339.30 902.55Z" fill="#fff" stroke="#FF00FF" stroke-width="3.9"/><path d="M1369.50 871.58L1404.55 851.38L1404.55 891.78Z" fill="#fff" stroke="#FF00FF" stroke-width="3.9"/><path d="M1434.75 871.58L1469.80 851.38L1469.80 891.78Z" fill="#fff" stroke="#FF00FF" stroke-width="3.9"/><path d="M1500.00 871.58L1535.05 851.38L1535.05 891.78Z" fill="#fff" stroke="#FF00FF" stroke-width="3.9"/>
<line x1="299" y1="54.00" x2="435" y2="54.00" stroke="#000000" stroke-width="6.0" stroke-linecap="round"/>
<rect x="351.45" y="38.45" width="31.10" height="31.10" fill="#fff" stroke="#000000" stroke-width="3.9"/>
<text transform="translate(451.6 75.00) scale(0.985 1)" font-size="62.5">TPU</text>
<line x1="299" y1="129.70" x2="435" y2="129.70" stroke="#FF0000" stroke-width="6.0" stroke-linecap="round"/>
<circle cx="367.00" cy="129.70" r="17.3" fill="#fff" stroke="#FF0000" stroke-width="3.9"/>
<text transform="translate(451.6 150.74) scale(0.985 1)" font-size="62.5">TPU with 1 wt.% soybean polyol</text>
<line x1="299" y1="205.40" x2="435" y2="205.40" stroke="#0000FF" stroke-width="6.0" stroke-linecap="round"/>
<path d="M367.00 182.90L387.20 217.95L346.80 217.95Z" fill="#fff" stroke="#0000FF" stroke-width="3.9"/>
<text transform="translate(451.6 226.48) scale(0.985 1)" font-size="62.5">TPU with 5 wt.% soybean polyol</text>
<line x1="299" y1="281.10" x2="435" y2="281.10" stroke="#008000" stroke-width="6.0" stroke-linecap="round"/>
<path d="M367.00 303.60L387.20 268.55L346.80 268.55Z" fill="#fff" stroke="#008000" stroke-width="3.9"/>
<text transform="translate(451.6 302.22) scale(0.985 1)" font-size="62.5">TPU with 10 wt.% soybean polyol</text>
<line x1="299" y1="356.80" x2="435" y2="356.80" stroke="#FF8000" stroke-width="6.0" stroke-linecap="round"/>
<path d="M367.00 334.90L388.90 356.80L367.00 378.70L345.10 356.80Z" fill="#fff" stroke="#FF8000" stroke-width="3.9"/>
<text transform="translate(451.6 377.96) scale(0.985 1)" font-size="62.5">TPU with 20 wt.% soybean polyol</text>
<line x1="299" y1="432.50" x2="435" y2="432.50" stroke="#FF00FF" stroke-width="6.0" stroke-linecap="round"/>
<path d="M344.50 432.50L379.55 412.30L379.55 452.70Z" fill="#fff" stroke="#FF00FF" stroke-width="3.9"/>
<text transform="translate(451.6 453.70) scale(0.985 1)" font-size="62.5">TPU with 50 wt.% soybeansoy polyol</text>
</svg>
</body></html>
